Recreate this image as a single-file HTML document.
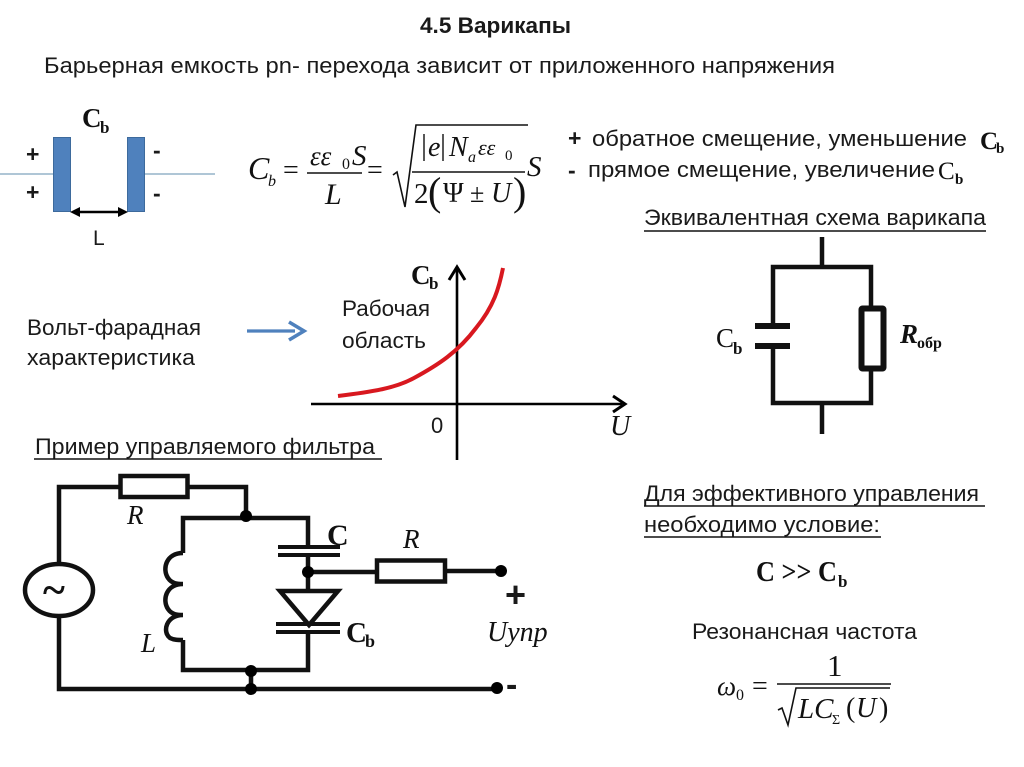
<!DOCTYPE html>
<html lang="ru">
<head>
<meta charset="utf-8">
<title>4.5 Варикапы</title>
<style>
html,body{margin:0;padding:0;background:#fff}
svg{display:block}
text{font-family:"Liberation Sans","Noto Sans CJK SC",sans-serif;fill:#1a1a1a}
.s{font-family:"Liberation Serif","Noto Serif CJK SC",serif;fill:#111}
.i{font-style:italic}
.b{font-weight:bold}
.w{fill:none;stroke:#111;stroke-width:4.5;stroke-linejoin:miter}
.t{fill:none;stroke:#111;stroke-width:1.6}
</style>
</head>
<body>
<svg width="1024" height="767" viewBox="0 0 1024 767" xmlns="http://www.w3.org/2000/svg">
<rect width="1024" height="767" fill="#fff"/>
<text x="420" y="33" font-size="22" font-weight="bold" textLength="151" lengthAdjust="spacingAndGlyphs">4.5 Варикапы</text>
<text x="44" y="73" font-size="22" textLength="791" lengthAdjust="spacingAndGlyphs">Барьерная емкость pn- перехода зависит от  приложенного напряжения</text>

<!-- capacitor -->
<path d="M0 174H53M144 174H215" stroke="#7fa3bd" stroke-width="1.3" fill="none"/>
<rect x="53.5" y="137.5" width="17" height="74" fill="#4f81bd" stroke="#3d6a9c"/>
<rect x="127.5" y="137.5" width="17" height="74" fill="#4f81bd" stroke="#3d6a9c"/>
<text class="s b" x="82" y="127" font-size="27">C</text><text class="s b" x="100" y="133" font-size="17">b</text>
<text class="b" x="26" y="162" font-size="23">+</text>
<text class="b" x="26" y="200" font-size="23">+</text>
<text class="b" x="153" y="158" font-size="23">-</text>
<text class="b" x="153" y="201" font-size="23">-</text>
<path d="M78 212H120" stroke="#000" stroke-width="2.6"/>
<path d="M70 212L80 207V217ZM128 212L118 207V217Z" fill="#000"/>
<text x="93" y="245" font-size="21">L</text>

<!-- formula 1 -->
<text class="s i" x="248" y="179" font-size="32">C</text>
<text class="s i" x="268" y="186" font-size="16">b</text>
<text class="s" x="283" y="179" font-size="28">=</text>
<text class="s i" x="310" y="165" font-size="27">εε</text>
<text class="s" x="342" y="169" font-size="16">0</text>
<text class="s i" x="352" y="165" font-size="29">S</text>
<path class="t" d="M307 173H362"/>
<text class="s i" x="325" y="204" font-size="30">L</text>
<text class="s" x="367" y="179" font-size="28">=</text>
<path class="t" d="M393 175L397 172L405 207L416 125H528"/>
<path d="M424 134V161M443 134V161" stroke="#111" stroke-width="1.4"/>
<text class="s i" x="428" y="156" font-size="28">e</text>
<text class="s i" x="449" y="156" font-size="28">N</text>
<text class="s i" x="468" y="162" font-size="16">a</text>
<text class="s i" x="478" y="155" font-size="22">εε</text>
<text class="s" x="505" y="160" font-size="15">0</text>
<path class="t" d="M412 172H525"/>
<text class="s" x="414" y="203" font-size="29">2</text>
<text class="s" x="428" y="205" font-size="40">(</text>
<text class="s" x="443" y="202" font-size="28">Ψ</text>
<text class="s" x="470" y="202" font-size="26">±</text>
<text class="s i" x="491" y="202" font-size="28">U</text>
<text class="s" x="513" y="205" font-size="40">)</text>
<text class="s i" x="527" y="176" font-size="29">S</text>

<!-- bias lines -->
<text class="b" x="568" y="146" font-size="23">+</text>
<text x="592" y="146" font-size="22" textLength="375" lengthAdjust="spacingAndGlyphs">обратное смещение, уменьшение</text>
<text class="s b" x="980" y="149" font-size="25">C</text><text class="s b" x="996" y="153" font-size="15">b</text>
<text class="b" x="568" y="178" font-size="23">-</text>
<text x="588" y="177" font-size="22" textLength="347" lengthAdjust="spacingAndGlyphs">прямое смещение, увеличение</text>
<text class="s" x="938" y="179" font-size="25">C</text><text class="s b" x="955" y="184" font-size="15">b</text>

<!-- equivalent circuit -->
<text x="644" y="225" font-size="22" textLength="342" lengthAdjust="spacingAndGlyphs">Эквивалентная схема варикапа</text>
<path d="M644 231H986" stroke="#111" stroke-width="1.5"/>
<path class="w" d="M822 237V267M773 326V267H871V307M871 369V403H773V346M822 403V434"/>
<path d="M755 326H790M755 346H790" stroke="#111" stroke-width="6" fill="none"/>
<rect x="861.5" y="308.5" width="22" height="60" rx="1" fill="#fff" stroke="#111" stroke-width="6"/>
<text class="s" x="716" y="347" font-size="27">C</text><text class="s b" x="733" y="354" font-size="17">b</text>
<text class="s b i" x="900" y="343" font-size="27">R</text>
<text class="s b" x="917" y="348" font-size="16">обр</text>

<!-- C-V -->
<text x="27" y="335" font-size="22" textLength="174" lengthAdjust="spacingAndGlyphs">Вольт-фарадная</text>
<text x="27" y="365" font-size="22" textLength="168" lengthAdjust="spacingAndGlyphs">характеристика</text>
<path d="M247 331H295" stroke="#4f81bd" stroke-width="3.2" fill="none"/>
<path d="M289 322L304 331L289 340" fill="none" stroke="#4f81bd" stroke-width="3.6"/>
<text class="s b" x="411" y="284" font-size="27">C</text><text class="s b" x="429" y="289" font-size="17">b</text>
<text x="342" y="316" font-size="22" textLength="88" lengthAdjust="spacingAndGlyphs">Рабочая</text>
<text x="342" y="348" font-size="22" textLength="84" lengthAdjust="spacingAndGlyphs">область</text>
<path d="M311 404H622M457 460V268" stroke="#000" stroke-width="2.6" fill="none"/>
<path d="M449 280L457 267L465 280M613 396L625 404L613 412" fill="none" stroke="#000" stroke-width="3"/>
<path d="M338 396C372 392 396 388 414 378C438 365 458 352 476 328C494 306 499 288 503 268" fill="none" stroke="#d8181f" stroke-width="4"/>
<text x="431" y="433" font-size="22">0</text>
<text class="s i" x="610" y="435" font-size="28">U</text>

<!-- filter -->
<text x="35" y="454" font-size="22" textLength="340" lengthAdjust="spacingAndGlyphs">Пример управляемого фильтра</text>
<path d="M34 459H382" stroke="#111" stroke-width="1.5"/>
<path class="w" d="M59 563V487H120M188 487H246V516M183 553V518H308V548M308 556V590M308 572H376M445 571H500M308 630V670H183V640M251 671V689M59 616V689H497"/>
<rect x="120.5" y="476" width="67" height="21" fill="#fff" stroke="#111" stroke-width="4.5"/>
<rect x="377" y="560.5" width="68" height="21" fill="#fff" stroke="#111" stroke-width="4.5"/>
<ellipse cx="59" cy="590" rx="34" ry="26" fill="#fff" stroke="#111" stroke-width="4.5"/>
<text class="s b" x="43" y="604" font-size="42">~</text>
<path class="w" d="M183 553C166 553 162 569 168 578C172 584 178 584 183 584C166 584 162 600 168 609C172 615 178 615 183 615C166 615 162 632 170 638C174 640 178 640 183 640"/>
<path d="M278 547H340M278 555H340M276 624H340M276 632H340" stroke="#111" stroke-width="4" fill="none"/>
<path d="M280 591H338L309 625Z" fill="#fff" stroke="#111" stroke-width="4.5"/>
<circle cx="246" cy="516" r="6" fill="#000"/>
<circle cx="308" cy="572" r="6" fill="#000"/>
<circle cx="501" cy="571" r="6" fill="#000"/>
<circle cx="251" cy="671" r="6" fill="#000"/>
<circle cx="251" cy="689" r="6" fill="#000"/>
<circle cx="497" cy="688" r="6" fill="#000"/>
<text class="s i" x="127" y="524" font-size="27">R</text>
<text class="s i" x="403" y="548" font-size="27">R</text>
<text class="s i" x="141" y="652" font-size="27">L</text>
<text class="s b" x="327" y="545" font-size="30">C</text>
<text class="s b" x="346" y="642" font-size="29">C</text><text class="s b" x="365" y="647" font-size="18">b</text>
<text class="b" x="505" y="607" font-size="36">+</text>
<text class="s i" x="487" y="641" font-size="28">Uупр</text>
<text class="b" x="506" y="696" font-size="34">-</text>

<!-- right bottom -->
<text x="644" y="501" font-size="22" textLength="335" lengthAdjust="spacingAndGlyphs">Для эффективного управления</text>
<path d="M644 506H985" stroke="#111" stroke-width="1.5"/>
<text x="644" y="532" font-size="22" textLength="236" lengthAdjust="spacingAndGlyphs">необходимо условие:</text>
<path d="M644 537H881" stroke="#111" stroke-width="1.5"/>
<text class="s b" x="756" y="581" font-size="29" textLength="81" lengthAdjust="spacingAndGlyphs">C &gt;&gt; C</text><text class="s b" x="838" y="587" font-size="17">b</text>
<text x="692" y="639" font-size="22" textLength="225" lengthAdjust="spacingAndGlyphs">Резонансная частота</text>
<text class="s i" x="717" y="695" font-size="27">ω</text>
<text class="s" x="736" y="700" font-size="16">0</text>
<text class="s" x="752" y="695" font-size="28">=</text>
<text class="s" x="827" y="676" font-size="31">1</text>
<path class="t" d="M777 684H891"/>
<path class="t" d="M778 710L782 708L788 725L796 688H890"/>
<text class="s i" x="798" y="718" font-size="29">LC</text>
<text class="s" x="832" y="724" font-size="14">Σ</text>
<text class="s" x="846" y="717" font-size="28">(</text>
<text class="s i" x="856" y="717" font-size="28">U</text>
<text class="s" x="879" y="717" font-size="28">)</text>
</svg>
</body>
</html>
